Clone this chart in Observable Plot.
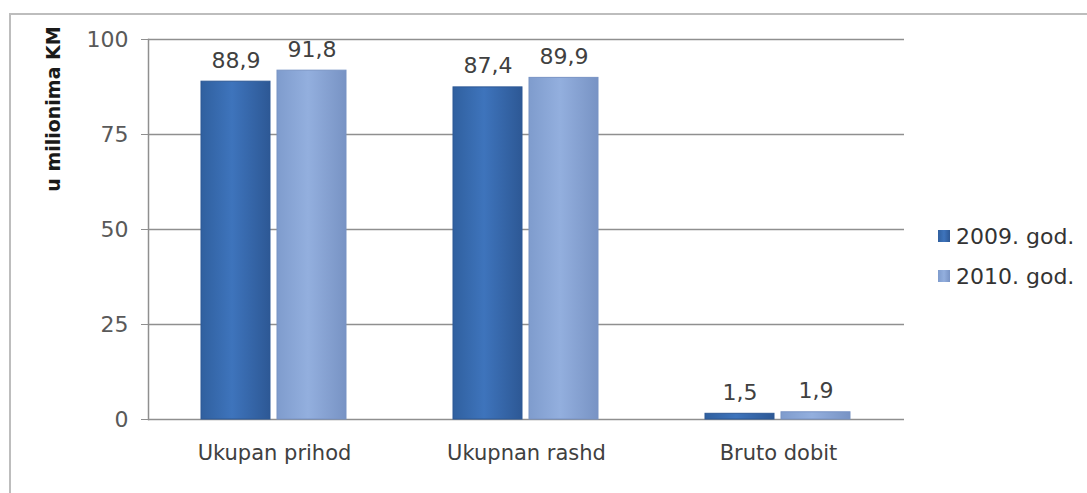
<!DOCTYPE html>
<html><head><meta charset="utf-8">
<script src="https://cdn.jsdelivr.net/npm/d3@7"></script>
<script src="https://cdn.jsdelivr.net/npm/@observablehq/plot@0.6"></script>
<style>
body{margin:0;background:#fff;overflow:hidden;font-family:"DejaVu Sans",sans-serif;}
#wrap{position:relative;width:1087px;height:493px;overflow:hidden;}
#border{position:absolute;left:9px;top:13px;width:1100px;height:520px;border:2px solid #bdbdbd;box-sizing:border-box;}
#chart{position:absolute;left:0;top:0;}
#ylabel{position:absolute;left:53px;top:109px;transform:translate(-50%,-50%) rotate(-90deg);white-space:nowrap;font-size:19px;font-weight:bold;color:#1a1a1a;}
#legend{position:absolute;left:938px;top:216px;font-size:22px;color:#333;}
#legend .row{display:flex;align-items:center;height:40px;}
#legend .sw{width:12px;height:12px;margin-right:6px;}
</style></head><body>
<div id="wrap"><div id="border"></div><div id="chart"></div><div id="ylabel">u milionima KM</div><div id="legend"></div></div>
<script>
const categories = ["Ukupan prihod", "Ukupnan rashd", "Bruto dobit"];
const years = ["2009. god.", "2010. god."];
const values2009 = [88.9, 87.4, 1.5];
const values2010 = [91.8, 89.9, 1.9];
const yTicks = [0, 25, 50, 75, 100];
const colors = ["#3a6db5", "#8eaadb"];
const gradStops = [["#30609f", "#3e74bc", "#2d5895"], ["#7f9ccd", "#93afde", "#7893c4"]];

const data = categories.flatMap((c, i) => [
  {category: c, year: years[0], value: values2009[i]},
  {category: c, year: years[1], value: values2010[i]}
]);
const fmt = v => v.toFixed(1).replace(".", ",");

const chart = Plot.plot({
  width: 1087, height: 493,
  marginLeft: 148, marginRight: 183, marginTop: 39, marginBottom: 74,
  style: {fontFamily: "DejaVu Sans", background: "transparent"},
  fx: {domain: categories, padding: 0, label: null},
  x: {domain: years, paddingInner: 0.09, paddingOuter: 0.7, axis: null},
  y: {domain: [0, 100]},
  color: {domain: years, range: colors},
  marks: [
    Plot.gridY(yTicks, {stroke: "#8f8f8f", strokeOpacity: 1, strokeWidth: 1.5}),
    Plot.frame({anchor: "left", facetAnchor: "left", stroke: "#8f8f8f", strokeWidth: 1.5}),
    Plot.axisY(yTicks, {tickSize: 7, tickPadding: 13, fontSize: 22, stroke: "#8f8f8f", fill: "#595959", label: null}),
    Plot.axisFx({anchor: "bottom", tickSize: 0, tickPadding: 26, fontSize: 21, fill: "#404040", label: null}),
    Plot.barY(data, {fx: "category", x: "year", y: "value", fill: "year"}),
    Plot.text(data, {fx: "category", x: "year", y: "value", text: d => fmt(d.value), lineAnchor: "bottom", dy: -14, fontSize: 22, fill: "#404040"})
  ]
});
document.getElementById("chart").appendChild(chart);

// gradients for bars
const svg = d3.select(chart);
const defs = svg.insert("defs", ":first-child");
colors.forEach((c, i) => {
  const g = defs.append("linearGradient").attr("id", "grad" + i).attr("x1", 0).attr("x2", 1).attr("y1", 0).attr("y2", 0);
  g.append("stop").attr("offset", "0%").attr("stop-color", gradStops[i][0]);
  g.append("stop").attr("offset", "45%").attr("stop-color", gradStops[i][1]);
  g.append("stop").attr("offset", "100%").attr("stop-color", gradStops[i][2]);
});
svg.selectAll("g[aria-label=bar] rect").each(function() {
  const f = this.getAttribute("fill");
  const i = colors.indexOf(f);
  if (i >= 0) d3.select(this).attr("fill", `url(#grad${i})`).attr("stroke", gradStops[i][2]).attr("stroke-width", 1);
});

// legend
const legend = d3.select("#legend");
years.forEach((y, i) => {
  const row = legend.append("div").attr("class", "row");
  row.append("div").attr("class", "sw").style("background", `linear-gradient(to right, ${gradStops[i][0]}, ${gradStops[i][1]}, ${gradStops[i][2]})`);
  row.append("span").text(y);
});
</script>
</body></html>
